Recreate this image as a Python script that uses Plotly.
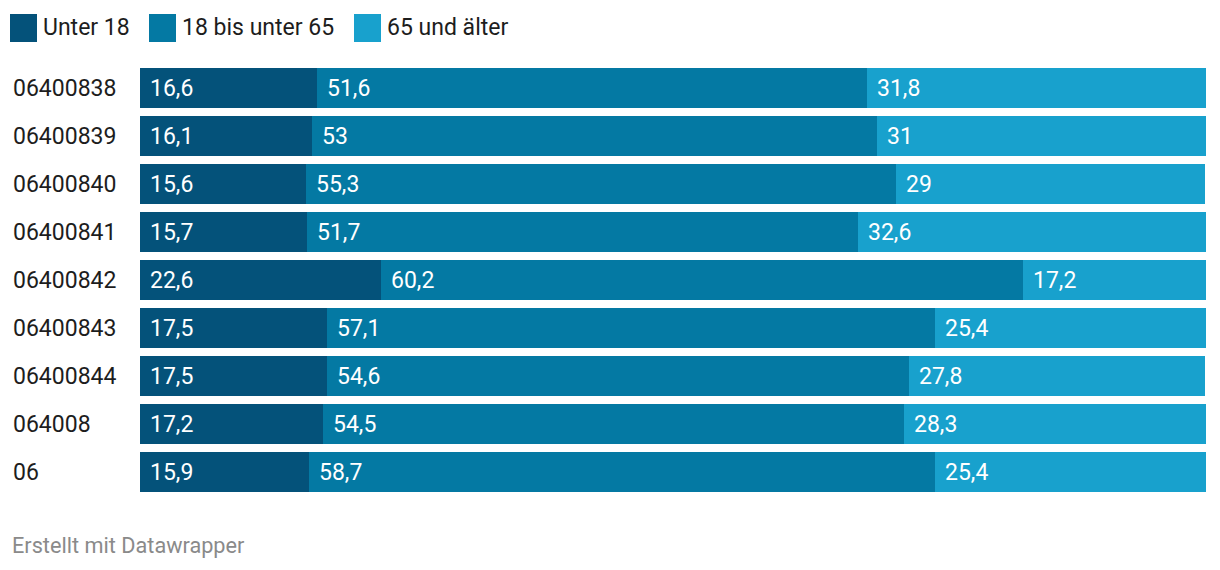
import plotly.graph_objects as go

categories = ["06400838", "06400839", "06400840", "06400841", "06400842",
              "06400843", "06400844", "064008", "06"]
unter18 = [16.6, 16.1, 15.6, 15.7, 22.6, 17.5, 17.5, 17.2, 15.9]
mitte = [51.6, 53, 55.3, 51.7, 60.2, 57.1, 54.6, 54.5, 58.7]
alt = [31.8, 31, 29, 32.6, 17.2, 25.4, 27.8, 28.3, 25.4]
series_names = ["Unter 18", "18 bis unter 65", "65 und älter"]
colors = ["#04527a", "#0479a3", "#18a1cd"]

OFF = 8  # page body margin
W, H = 1220 - OFF, 570 - OFF
L, R, T, B = 140 - OFF, 14, 64 - OFF, 74
pw, ph = W - L - R, H - T - B

def px(x):
    return (x - OFF - L) / pw

def py(y):
    return 1 - (y - OFF - T) / ph

def fmt(v):
    s = f"{v:g}"
    return s.replace(".", ",")

FONT = "Roboto"
FS = 23
ypos = list(range(len(categories)))
fig = go.Figure()
series = [unter18, mitte, alt]
for name, vals, col in zip(series_names, series, colors):
    fig.add_trace(go.Bar(
        y=ypos, x=vals, name=name, orientation="h",
        marker=dict(color=col, line=dict(width=0)),
        hovertext=categories, hoverinfo="skip", showlegend=False,
    ))

annotations = []
for i, cat in enumerate(categories):
    base = 0
    for vals in series:
        v = vals[i]
        annotations.append(dict(
            x=base, y=i, xref="x", yref="y", text=fmt(v), showarrow=False,
            xanchor="left", yanchor="middle", xshift=8,
            font=dict(family=FONT, size=FS, color="white")))
        base += v
    annotations.append(dict(
        x=px(10.5), y=i, xref="paper", yref="y", text=cat, showarrow=False,
        xanchor="left", yanchor="middle",
        font=dict(family=FONT, size=FS, color="#1d1d1d")))

# legend
shapes = []
leg_sq = [10, 149, 354]
for name, col, x0 in zip(series_names, colors, leg_sq):
    shapes.append(dict(type="rect", xref="paper", yref="paper",
                       x0=px(x0), x1=px(x0 + 27), y0=py(42), y1=py(14),
                       fillcolor=col, line=dict(width=0)))
    annotations.append(dict(
        x=px(x0 + 31), y=py(27), xref="paper", yref="paper", text=name,
        showarrow=False, xanchor="left", yanchor="middle",
        font=dict(family=FONT, size=FS, color="#1d1d1d")))

annotations.append(dict(
    x=px(10), y=py(545), xref="paper", yref="paper", text="Erstellt mit Datawrapper",
    showarrow=False, xanchor="left", yanchor="middle",
    font=dict(family=FONT, size=21.7, color="#8a8a8a")))

fig.update_layout(
    width=W, height=H, barmode="stack", bargap=8 / 48,
    margin=dict(l=L, r=R, t=T, b=B, pad=0),
    plot_bgcolor="white", paper_bgcolor="white",
    xaxis=dict(range=[0, 100], visible=False, fixedrange=True),
    yaxis=dict(range=[len(categories) - 0.5, -0.5], visible=False, fixedrange=True),
    annotations=annotations, shapes=shapes,
    font=dict(family=FONT),
)

fig.write_html("out.html", config={"displayModeBar": False})
